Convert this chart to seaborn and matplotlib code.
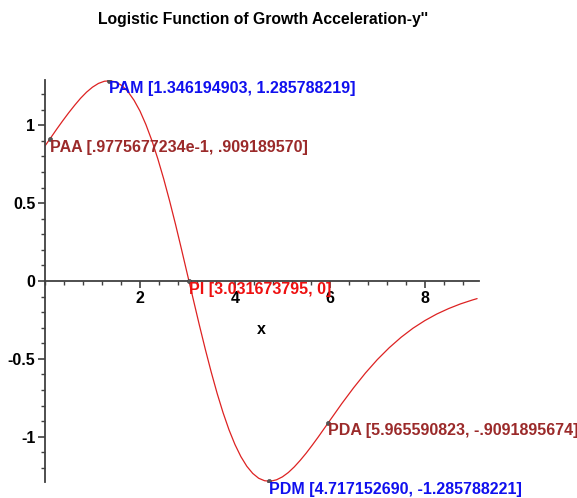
import matplotlib
matplotlib.use("Agg")
import matplotlib.pyplot as plt
import seaborn as sns
import pandas as pd
from matplotlib.ticker import MultipleLocator

# curve values
x_vals = [0.0, 0.125, 0.25, 0.375, 0.5, 0.625, 0.75, 0.875, 1.0, 1.125, 1.25,
          1.375, 1.5, 1.625, 1.75, 1.875, 2.0, 2.125, 2.25, 2.375, 2.5, 2.625,
          2.75, 2.875, 3.0, 3.125, 3.25, 3.375, 3.5, 3.625, 3.75, 3.875, 4.0,
          4.125, 4.25, 4.375, 4.5, 4.625, 4.75, 4.875, 5.0, 5.125, 5.25, 5.375,
          5.5, 5.625, 5.75, 5.875, 6.0, 6.25, 6.5, 6.75, 7.0, 7.25, 7.5, 7.75,
          8.0, 8.25, 8.5, 8.75, 9.0, 9.1]
y_vals = [0.867, 0.921, 0.976, 1.029, 1.080, 1.128, 1.173, 1.212, 1.244, 1.268,
          1.282, 1.285, 1.276, 1.253, 1.214, 1.160, 1.091, 1.004, 0.902, 0.785,
          0.655, 0.513, 0.362, 0.203, 0.041, -0.121, -0.282, -0.437, -0.584,
          -0.721, -0.845, -0.955, -1.049, -1.127, -1.189, -1.235, -1.266,
          -1.282, -1.285, -1.276, -1.257, -1.229, -1.193, -1.151, -1.105,
          -1.055, -1.003, -0.949, -0.895, -0.787, -0.685, -0.590, -0.504,
          -0.428, -0.361, -0.303, -0.254, -0.212, -0.177, -0.147, -0.122,
          -0.113]

# labelled points
pt_names = ["PAA", "PAM", "PI", "PDM", "PDA"]
pt_x = [0.09775677234, 1.346194903, 3.031673795, 4.717152690, 5.965590823]
pt_y = [0.909189570, 1.285788219, 0.0, -1.285788221, -0.9091895674]
pt_text = ["PAA [.9775677234e-1, .909189570]",
           "PAM [1.346194903, 1.285788219]",
           "PI [3.031673795, 0]",
           "PDM [4.717152690, -1.285788221]",
           "PDA [5.965590823, -.9091895674]"]
pt_colors = ["#9b2a2a", "#1010ee", "#ee1010", "#1010ee", "#9b2a2a"]

x_ticks = [2, 4, 6, 8]
y_ticks = [-1, -0.5, 0, 0.5, 1]
y_ticklabels = ["-1", "-0.5", "0", "0.5", "1"]

curve = pd.DataFrame({"x": x_vals, "y": y_vals})
points = pd.DataFrame({"x": pt_x, "y": pt_y, "name": pt_names})

sns.set_style("white")
plt.rcParams["font.family"] = ["Liberation Sans", "DejaVu Sans"]
plt.rcParams["text.color"] = "black"

fig = plt.figure(figsize=(5.77, 4.98), dpi=100)
ax = fig.add_axes([45 / 577, 16 / 498, 434 / 577, 402 / 498])

sns.lineplot(data=curve, x="x", y="y", ax=ax, color="#dd2222", linewidth=0.9,
             estimator=None)
sns.scatterplot(data=points, x="x", y="y", ax=ax, color="#555555", s=10,
                edgecolor="#333333", zorder=5)

for px, py, txt, c in zip(pt_x, pt_y, pt_text, pt_colors):
    ax.text(px, py - 0.005, txt, color=c, fontsize=11.5, fontweight="bold",
            ha="left", va="top", zorder=6)

ax.set_xlim(0, 9.14)
ax.set_ylim(-1.29, 1.29)
ax.spines["top"].set_visible(False)
ax.spines["right"].set_visible(False)
ax.spines["left"].set_position(("data", 0))
ax.spines["bottom"].set_position(("data", 0))
for s in ["left", "bottom"]:
    ax.spines[s].set_color("#404040")
    ax.spines[s].set_linewidth(1.3)

ax.set_xticks(x_ticks)
ax.set_xticklabels([str(t) for t in x_ticks])
ax.set_yticks(y_ticks)
ax.set_yticklabels(y_ticklabels)
ax.xaxis.set_minor_locator(MultipleLocator(0.4))
ax.yaxis.set_minor_locator(MultipleLocator(0.1))
ax.tick_params(which="both", bottom=True, left=True, direction="out")
ax.tick_params(which="major", length=5, width=1.2, color="#404040",
               labelsize=11.5, labelcolor="black", pad=2)
ax.tick_params(which="minor", length=3, width=1.0, color="#404040")
for lab in ax.get_xticklabels() + ax.get_yticklabels():
    lab.set_fontweight("bold")

ax.set_xlabel("")
ax.set_ylabel("")
ax.text(4.55, -0.31, "x", fontsize=11.5, fontweight="bold", ha="center",
        va="center", color="black")

fig.suptitle("Logistic Function of Growth Acceleration-y''", x=0.455,
             y=0.975, va="top", fontsize=11.3, fontweight="bold",
             color="black")

fig.savefig("out.png", dpi=100)
